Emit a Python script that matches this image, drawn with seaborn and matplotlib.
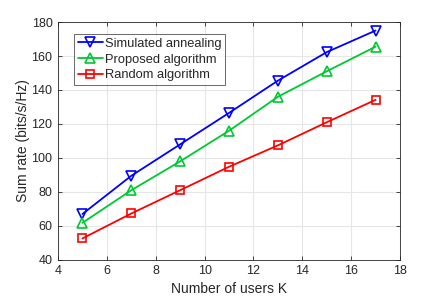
import numpy as np
import pandas as pd
import matplotlib
matplotlib.use("Agg")
import matplotlib.pyplot as plt
import seaborn as sns

users = [5, 7, 9, 11, 13, 15, 17]
simulated_annealing = [67, 89.5, 108, 126.5, 145.5, 162.3, 175]
proposed_algorithm = [61.8, 81, 98, 116, 136, 151, 165.5]
random_algorithm = [52.6, 67.3, 81, 94.8, 107.4, 121, 134.2]

labels = ["Simulated annealing", "Proposed algorithm", "Random algorithm"]
colors = ["#0000ff", "#00c832", "#ff0000"]
markers = ["v", "^", "s"]
sizes = [7.5, 7.5, 5.5]

sns.set_style("white")
plt.rcParams["font.family"] = ["Liberation Sans", "DejaVu Sans"]

fig = plt.figure(figsize=(4.43, 2.98), dpi=100)
ax = fig.add_axes([0.131, 0.128, 0.772, 0.798])

for vals, label, color, marker, ms in zip(
    [simulated_annealing, proposed_algorithm, random_algorithm], labels, colors, markers, sizes
):
    df = pd.DataFrame({"K": users, "rate": vals})
    sns.lineplot(
        data=df, x="K", y="rate", ax=ax, label=label, color=color,
        marker=marker, markersize=ms, markerfacecolor="none",
        markeredgecolor=color, markeredgewidth=1.2, linewidth=1.3,
    )

ax.set_xlim(4, 18)
ax.set_ylim(40, 180)
ax.set_xticks(np.arange(4, 19, 2))
ax.set_yticks(np.arange(40, 181, 20))
ax.grid(True, color="#e6e6e6", linewidth=0.8)
ax.set_axisbelow(True)
for s in ax.spines.values():
    s.set_color("#262626")
    s.set_linewidth(0.6)
ax.tick_params(direction="in", length=3, width=0.6, labelsize=9, colors="#262626",
               top=True, right=True, bottom=True, left=True, pad=4)
ax.set_xlabel("Number of users K", fontsize=10, color="#262626", labelpad=3)
ax.set_ylabel("Sum rate (bits/s/Hz)", fontsize=10, color="#262626", labelpad=1)

leg = ax.legend(loc="upper left", bbox_to_anchor=(0.047, 0.95), fontsize=9.3,
                frameon=True, fancybox=False, edgecolor="#262626",
                borderpad=0.3, labelspacing=0.28, handlelength=1.9,
                handletextpad=0.2, borderaxespad=0)
leg.get_frame().set_linewidth(0.6)

fig.savefig("out.png", dpi=100)
